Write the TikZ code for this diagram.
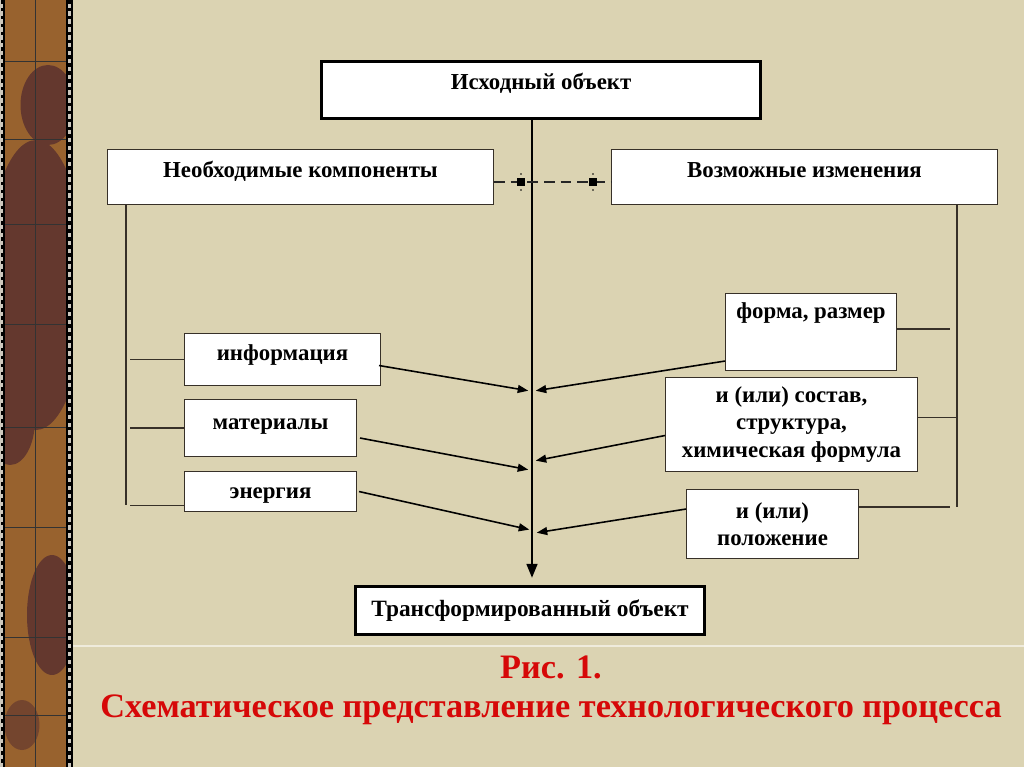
\documentclass[tikz,border=0pt]{standalone}
\usepackage{fontspec}
\setmainfont{Liberation Serif}
\usetikzlibrary{arrows.meta}

\definecolor{paper}{RGB}{219,211,178}
\definecolor{stripbrown}{RGB}{152,98,46}
\definecolor{stripdark}{RGB}{100,56,46}
\definecolor{stripedge}{RGB}{205,200,190}
\definecolor{capred}{RGB}{214,8,8}
\definecolor{edge}{RGB}{55,48,40}

\tikzset{
  box/.style={draw=edge, fill=white, line width=0.6pt, inner sep=0pt, anchor=north west,
    align=center, font=\bfseries\fontsize{13}{15.5}\selectfont},
  heavybox/.style={box, draw=black, line width=1.8pt},
  bus/.style={draw=edge, line width=0.6pt},
  feed/.style={line width=0.9pt, -{Triangle[length=6pt,width=4.5pt]}, shorten >=1pt},
  spine/.style={line width=1.6pt, -{Triangle[length=8pt,width=6pt]}},
  handle/.style={fill=black, inner sep=0pt, minimum size=4pt},
  caption/.style={text=capred, font=\bfseries\fontsize{19.5}{23}\selectfont}
}

\begin{document}
\begin{tikzpicture}[x=0.02cm, y=-0.02cm]
    \useasboundingbox (0,0) rectangle (1024,767);

    % background
    \fill[paper] (0,0) rectangle (1024,767);
    \draw[white!55!paper, line width=1pt] (72,646) -- (1024,646);

    % left strip
    \begin{scope}
        \clip (0,0) rectangle (72,767);
        \fill[stripbrown] (0,0) rectangle (72,767);
        \fill[stripdark] (48,105) ellipse [x radius=0.55cm, y radius=0.8cm];
        \fill[stripdark] (36,285) ellipse [x radius=1.0cm, y radius=2.9cm];
        \fill[stripdark] (10,420) ellipse [x radius=0.5cm, y radius=0.9cm];
        \fill[stripdark] (52,615) ellipse [x radius=0.5cm, y radius=1.2cm];
        \fill[stripdark!70!stripbrown] (22,725) ellipse [x radius=0.35cm, y radius=0.5cm];
    \end{scope}
    \draw[black!80, line width=0.5pt] (35,0) -- (35,767);
    \foreach \yy in {61,139,224,324,427,527,637,715}
        \draw[black!80, line width=0.5pt] (4,\yy) -- (68,\yy);
    \fill[stripedge] (0,0) rectangle (4,767);
    \fill[stripedge] (67,0) rectangle (72,767);
    \draw[black, line width=1.2pt, dash pattern=on 2pt off 2.5pt] (2,0) -- (2,767);
    \draw[black, line width=1.2pt, dash pattern=on 2pt off 2.5pt] (69.5,0) -- (69.5,767);
    \draw[black, line width=0.6pt] (4,0) -- (4,767);
    \draw[black, line width=0.6pt] (67,0) -- (67,767);
    \draw[black, line width=0.6pt] (72,0) -- (72,767);

    % boxes
    \node[heavybox, minimum width=8.78cm, text height=0.56cm, text depth=0.58cm] (src) at (320,60) {Исходный объект};
    \node[box, minimum width=7.72cm, text height=0.56cm, text depth=0.54cm] (need) at (107,149) {Необходимые компоненты};
    \node[box, minimum width=7.72cm, text height=0.56cm, text depth=0.54cm] (poss) at (611,149) {Возможные изменения};

    \node[box, minimum width=3.92cm, text height=0.54cm, text depth=0.5cm] (info) at (184,333) {информация};
    \node[box, minimum width=3.44cm, text height=0.6cm, text depth=0.54cm] (mat) at (184,399) {материалы};
    \node[box, minimum width=3.44cm, text height=0.54cm, text depth=0.26cm] (ener) at (184,471) {энергия};

    \node[box, minimum width=3.42cm, text height=0.5cm, text depth=1.04cm] (form) at (725,293) {форма, размер};
    \node[box, minimum width=5.04cm, minimum height=1.88cm] (comp) at (665,377) {и (или) состав,\\ структура,\\ химическая формула};
    \node[box, minimum width=3.44cm, minimum height=1.38cm] (pos) at (686,489) {и (или)\\ положение};

    \node[heavybox, minimum width=6.98cm, minimum height=0.96cm, font=\bfseries\fontsize{13.3}{15.5}\selectfont] (trans) at (354,585)
        {Трансформированный объект};

    % spine
    \coordinate (spx) at (532,117);
    \draw[spine, shorten >=4pt] (spx |- src.south) -- (spx |- trans.north);

    % dashed link with handles
    \draw[black!85, line width=0.8pt, dash pattern=on 6pt off 3.5pt]
        ([yshift=-0.1cm]need.east) -- ([yshift=-0.1cm]poss.west);
    \node[handle] (hl) at (521,182) {};
    \node[handle] (hr) at (593,182) {};
    \fill (hl) ++(0,-8) circle (0.5pt) (hl) ++(0,8) circle (0.5pt);
    \fill (hr) ++(0,-8) circle (0.5pt) (hr) ++(0,8) circle (0.5pt);

    % left bus
    \coordinate (lbus) at (126,505);
    \draw[bus] (lbus |- need.south) -- (lbus);
    \draw[bus] (info.west) -- ([xshift=0.08cm]info.west -| lbus);
    \draw[bus] (mat.west) -- ([xshift=0.08cm]mat.west -| lbus);
    \draw[bus] ([yshift=0.14cm]ener.south west) -- ([xshift=0.08cm,yshift=0.14cm]ener.south west -| lbus);

    % right bus
    \coordinate (rbus) at (957,507);
    \draw[bus] (rbus |- poss.south) -- (rbus);
    \draw[bus] ([yshift=0.06cm]form.east) -- ([xshift=-0.14cm,yshift=0.06cm]form.east -| rbus);
    \draw[bus] ([yshift=0.14cm]comp.east) -- ([yshift=0.14cm]comp.east -| rbus);
    \draw[bus] ([yshift=-0.36cm]pos.north east) -- ([xshift=-0.14cm,yshift=-0.36cm]pos.north east -| rbus);

    % feeds into the spine
    \coordinate (jia) at (530,391);
    \coordinate (jib) at (534,391);
    \coordinate (jma) at (530,470);
    \coordinate (jmb) at (534,461);
    \coordinate (jea) at (531,530);
    \coordinate (jeb) at (535,533);
    \draw[feed] ([xshift=-0.04cm,yshift=-0.12cm]info.east) -- (jia);
    \draw[feed] ([xshift=0.06cm,yshift=-0.2cm]mat.east) -- (jma);
    \draw[feed] ([xshift=0.04cm]ener.east) -- (jea);
    \draw[feed] ([yshift=0.2cm]form.south west) -- (jib);
    \draw[feed] ([yshift=-0.22cm]comp.west) -- (jmb);
    \draw[feed] ([yshift=0.3cm]pos.west) -- (jeb);

    % caption
    \node[caption] (fig) at (551,667) {Рис. 1.};
    \node[caption] (title) at (551,710) {Схематическое представление технологического процесса};
\end{tikzpicture}
\end{document}
